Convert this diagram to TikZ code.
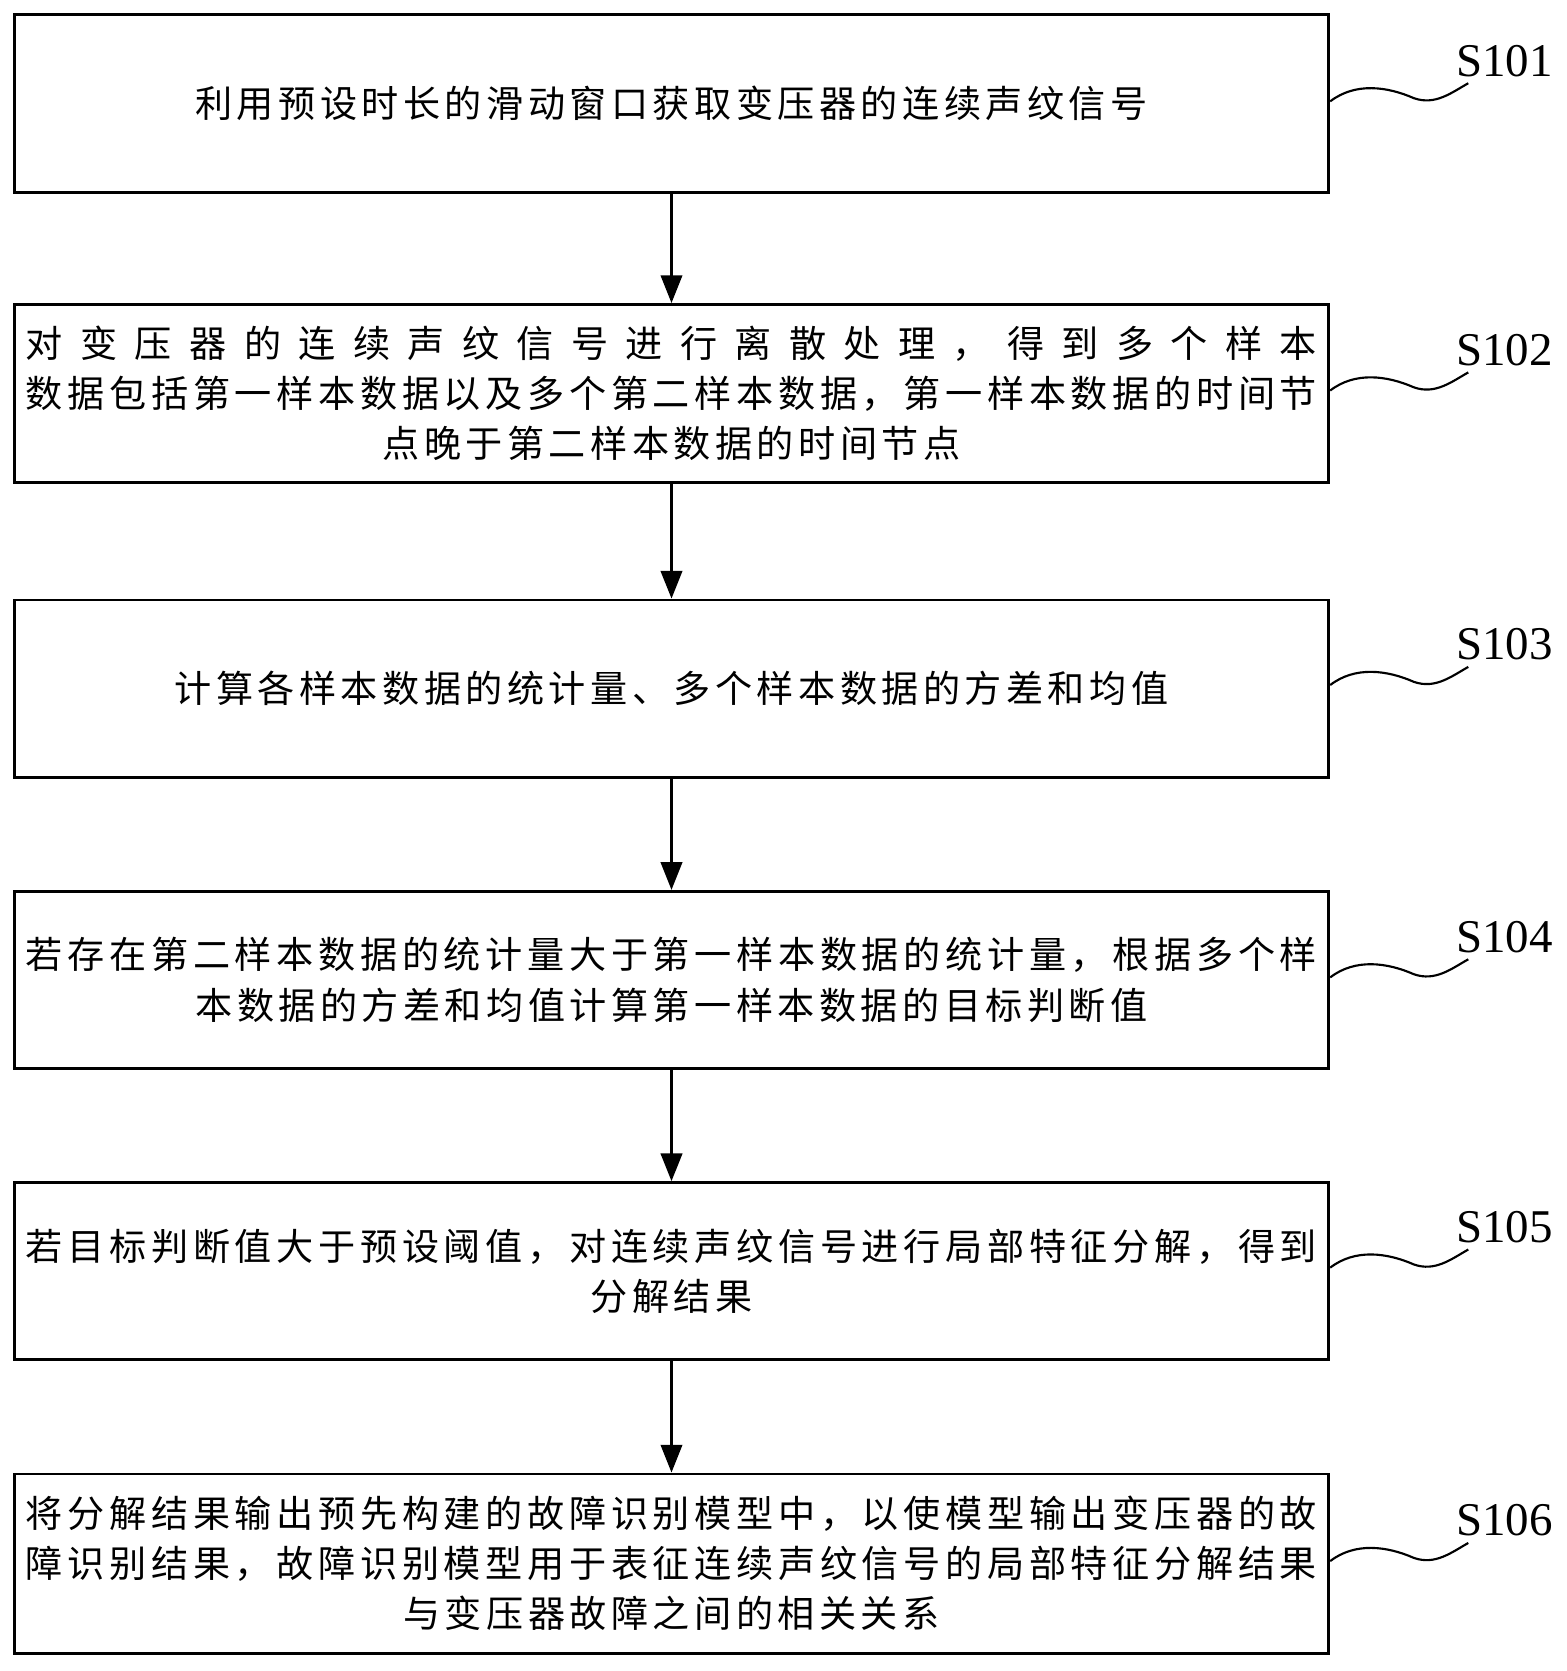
\documentclass[tikz,border=0pt]{standalone}
\usepackage{fontspec}
\setmainfont{Liberation Serif}
\newfontfamily\cjk[LetterSpace=12]{Noto Sans CJK SC}
\usetikzlibrary{arrows.meta}
\def\spr#1{#1\sprx}
\def\sprx#1{\ifx#1\relax\else\hfil#1\expandafter\sprx\fi}
\newcommand\full[1]{\makebox[1210pt][s]{\spr#1\relax}}
\begin{document}
\begin{tikzpicture}[x=1pt,y=-1pt,
 box/.style={draw,line width=2.6pt,minimum width=1232pt,anchor=north west,inner sep=0pt,align=center,font=\cjk\fontsize{34.8}{47}\selectfont},
 arr/.style={line width=2.6pt,-{Triangle[length=26pt,width=20pt]}},
 lab/.style={font=\fontsize{44}{44}\selectfont},
 wav/.style={line width=2pt}]
\useasboundingbox (0,0) rectangle (1468,1566);
\node[box,minimum height=167pt] (b1) at (12,12) {利用预设时长的滑动窗口获取变压器的连续声纹信号};
\node[box,minimum height=167pt] (b2) at (12,284) {\full{对变压器的连续声纹信号进行离散处理，得到多个样本}\\\full{数据包括第一样本数据以及多个第二样本数据，第一样本数据的时间节}\\点晚于第二样本数据的时间节点};
\node[box,minimum height=166pt] (b3) at (12,561) {计算各样本数据的统计量、多个样本数据的方差和均值};
\node[box,minimum height=166pt] (b4) at (12,834) {\full{若存在第二样本数据的统计量大于第一样本数据的统计量，根据多个样}\\本数据的方差和均值计算第一样本数据的目标判断值};
\node[box,minimum height=166pt] (b5) at (12,1107) {\full{若目标判断值大于预设阈值，对连续声纹信号进行局部特征分解，得到}\\分解结果};
\node[box,minimum height=168pt] (b6) at (12,1380) {\full{将分解结果输出预先构建的故障识别模型中，以使模型输出变压器的故}\\\full{障识别结果，故障识别模型用于表征连续声纹信号的局部特征分解结果}\\与变压器故障之间的相关关系};
\foreach \a/\b in {b1/b2,b2/b3,b3/b4,b4/b5,b5/b6} \draw[arr] (\a.south) -- (\b.north);
\foreach \b/\t/\y in {b1/S101/57,b2/S102/328,b3/S103/604,b4/S104/878,b5/S105/1150,b6/S106/1425}{
 \node[lab] (l\b) at (1410,\y) {\t};
 \coordinate (w\b) at (1376,\y+21);
 \draw[wav] (\b.east |- 0,\y+38) .. controls (1270,\y+20) and (1300,\y+24) .. (1325,\y+35) .. controls (1345,\y+42) and (1360,\y+30) .. (w\b);
}
\end{tikzpicture}
\end{document}
